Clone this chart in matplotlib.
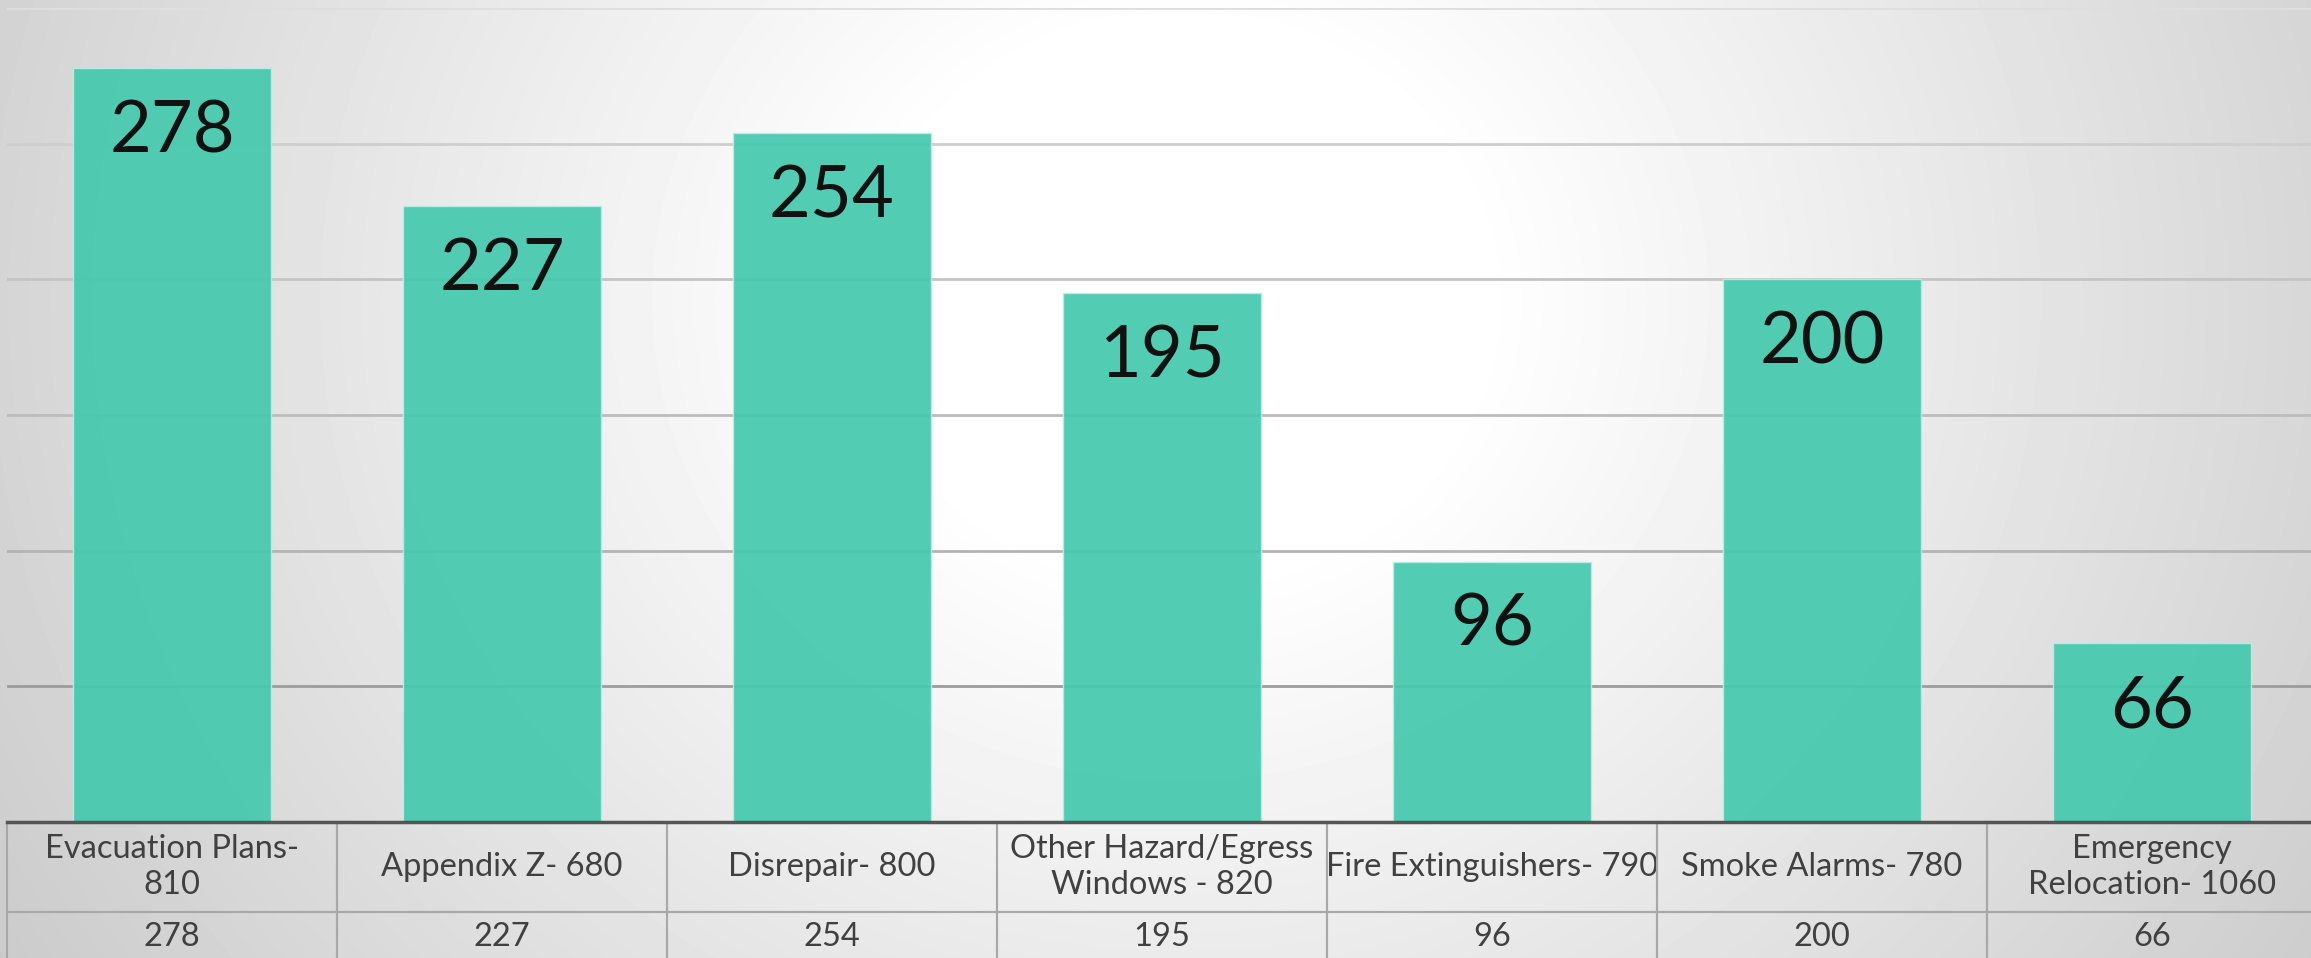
import numpy as np
import matplotlib
matplotlib.use("Agg")
import matplotlib.pyplot as plt

categories = ["Evacuation Plans-\n810", "Appendix Z- 680", "Disrepair- 800",
              "Other Hazard/Egress\nWindows - 820", "Fire Extinguishers- 790",
              "Smoke Alarms- 780", "Emergency\nRelocation- 1060"]
counts = [278, 227, 254, 195, 96, 200, 66]
grid_levels = [50, 100, 150, 200, 250, 300]
grid_colors = ["#9c9c9c", "#b4b4b4", "#bcbcbc", "#c4c4c4", "#cecece", "#dedede"]

W, H = 2311, 958
fig = plt.figure(figsize=(W / 100, H / 100), dpi=100)

# radial grey background, lightest around the upper middle
bg = fig.add_axes([0, 0, 1, 1])
yy, xx = np.mgrid[0:H, 0:W]
d = np.hypot(xx - 1180, (yy - 300) * 1.1)
shade = np.clip(255 - 0.048 * np.clip(d - 300, 0, None), 196, 255) / 255
bg.imshow(shade, cmap="gray", vmin=0, vmax=1, aspect="auto", interpolation="bilinear")
bg.axis("off")

# plot area: 7 categories of 330 px starting at x=7, baseline at y=822
left, top, base = 7, 8, 822
ax = fig.add_axes([left / W, (H - base) / H, 7 * 330 / W, (base - top) / H])
ax.patch.set_alpha(0)
ax.set_xlim(-0.5, 6.5)
ax.set_ylim(0, 300)

x = np.arange(len(counts))
for lvl, c in zip(grid_levels, grid_colors):
    ax.axhline(lvl, color=c, lw=2, zorder=1)

bars = ax.bar(x, counts, width=0.6, color="#45c9ad", alpha=0.93,
              edgecolor="#b8eee2", linewidth=1, zorder=2)
for b, v in zip(bars, counts):
    ax.annotate(str(v), (b.get_x() + b.get_width() / 2, v), xytext=(0, -46),
                textcoords="offset points", ha="center", va="center",
                fontsize=52, family="Lato", color="#111111", zorder=3)

for s in ["top", "right", "left"]:
    ax.spines[s].set_visible(False)
ax.spines["bottom"].set_color("#555555")
ax.spines["bottom"].set_linewidth(2.5)
ax.spines["bottom"].set_zorder(5)
ax.set_xticks([])
ax.set_yticks([])

# data table under the axis
ah = base - top
tbl = ax.table(cellText=[[str(v) for v in counts]], colLabels=categories,
               cellLoc="center", bbox=[0, -140 / ah, 1, 140 / ah])
tbl.auto_set_font_size(False)
for (r, c), cell in tbl.get_celld().items():
    cell.set_facecolor("none")
    cell.set_edgecolor("#a8a8a8")
    cell.set_linewidth(1.5)
    cell.set_height(0.09 if r == 0 else 0.05)
    t = cell.get_text()
    t.set_fontsize(23.5)
    t.set_family("Lato")
    t.set_color("#404040")
    t.set_linespacing(1.25)

fig.savefig("out.png", dpi=100)
